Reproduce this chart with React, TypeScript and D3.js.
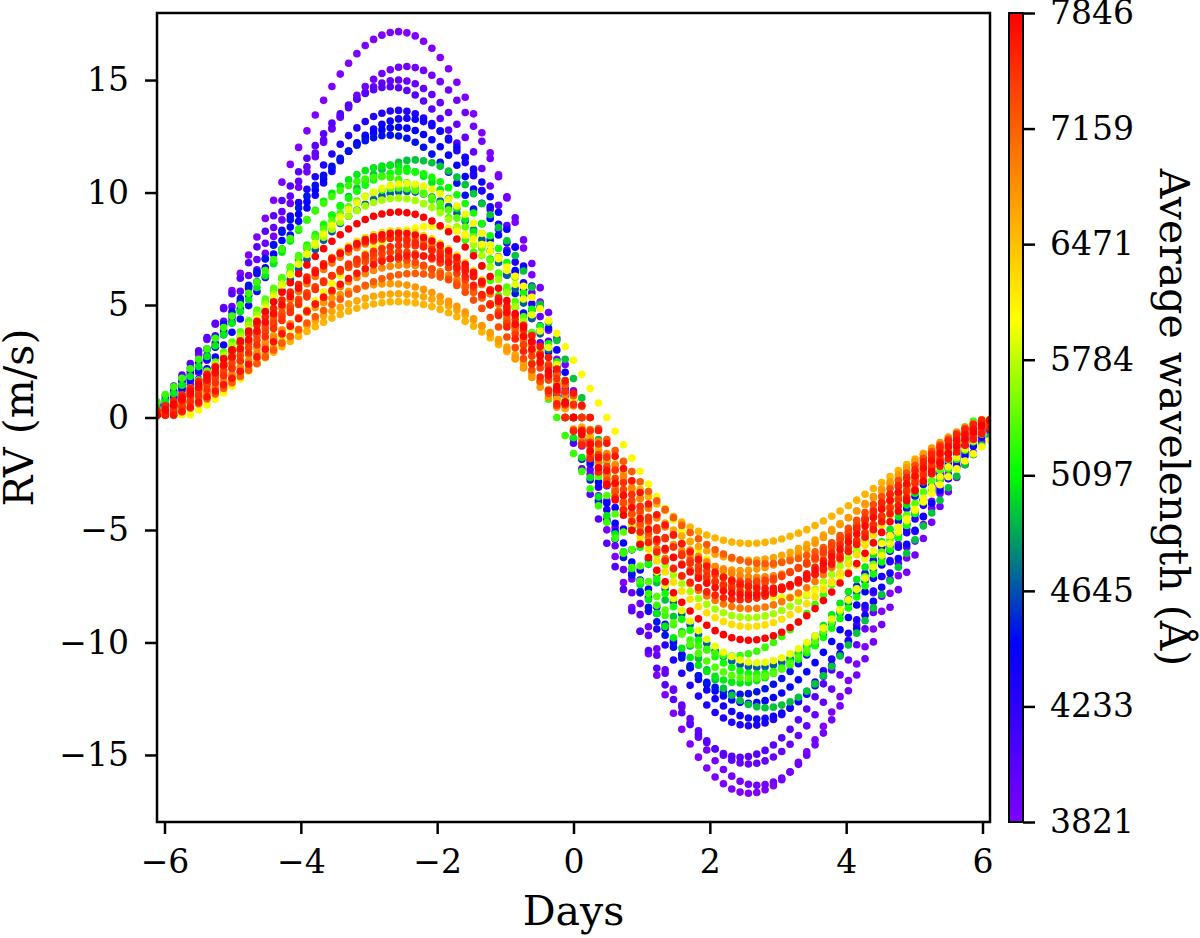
import React, { useEffect, useRef } from "react";
import * as d3 from "d3";

// Normalised RV profile on the 101-point sampling grid (peak = 1)
const profile = [
  0.015, 0.039, 0.065, 0.095, 0.128, 0.163, 0.202, 0.242, 0.285, 0.329,
  0.374, 0.421, 0.468, 0.516, 0.563, 0.61, 0.656, 0.7, 0.743, 0.784,
  0.822, 0.858, 0.89, 0.918, 0.943, 0.964, 0.98, 0.991, 0.998, 1.0,
  0.997, 0.989, 0.975, 0.957, 0.933, 0.904, 0.869, 0.83, 0.787, 0.738,
  0.686, 0.629, 0.569, 0.506, 0.439, 0.37, 0.299, 0.226, 0.151, 0.076,
  0,
  -0.076, -0.151, -0.226, -0.299, -0.37, -0.439, -0.506, -0.569, -0.629, -0.686,
  -0.738, -0.787, -0.83, -0.869, -0.904, -0.933, -0.957, -0.975, -0.989, -0.997,
  -1.0, -0.998, -0.991, -0.98, -0.964, -0.943, -0.918, -0.89, -0.858, -0.822,
  -0.784, -0.743, -0.7, -0.656, -0.61, -0.563, -0.516, -0.468, -0.421, -0.374,
  -0.329, -0.285, -0.242, -0.202, -0.163, -0.128, -0.095, -0.065, -0.039, -0.015,
];

const DAY_STEP = 0.1222;

// One entry per spectral chunk: mean wavelength, RV semi-amplitude on the
// positive and negative lobes (m/s) and the time lag in samples
const wavelengths = [
  3821, 3880, 3950, 4020, 4300, 4380, 4440, 4500, 4680, 4950, 5050, 5150, 5300,
  5400, 5700, 5950, 6050, 6250, 6550, 6650, 6750, 6900, 7000, 7200, 7300, 7400,
  7500, 7600, 7700, 7780, 7846,
];
const peakRV = [
  17.15, 15.6, 15.0, 14.7, 13.65, 13.3, 12.9, 12.55, 10.05, 11.45, 11.2, 10.95,
  10.7, 10.2, 9.75, 10.4, 8.5, 8.3, 5.15, 5.5, 5.95, 6.78, 8.0, 6.4, 7.07, 7.36,
  7.66, 7.96, 7.2, 8.2, 9.13,
];
const troughRV = [
  16.7, 16.35, 15.4, 15.1, 13.7, 13.4, 12.7, 12.3, 11.1, 12.9, 11.8, 11.4, 10.6,
  11.6, 8.9, 10.9, 8.0, 9.3, 5.6, 6.35, 6.8, 7.1, 8.5, 6.5, 7.5, 7.3, 7.8, 8.1,
  7.6, 7.9, 9.9,
];
const lagSteps = [
  0, 1, 0, -1, 0, 1, 0, -1, 1, 2, -1, 1, -2, 0, 0, 1, 4, 0, 0, 0, -1, 1, 0, 2,
  -1, 0, 1, -1, 2, 0, 0,
];

const dayTicks = [-6, -4, -2, 0, 2, 4, 6];
const rvTicks = [-15, -10, -5, 0, 5, 10, 15];
const wavelengthTicks = [3821, 4233, 4645, 5097, 5784, 6471, 7159, 7846];

// colour map: violet -> blue -> green -> yellow -> red
const cmapStops = [0, 0.22, 0.43, 0.62, 1];
const cmapColors = ["#7f00ff", "#0000ff", "#00ff00", "#ffff00", "#ff0000"];

const FONT = "DejaVu Serif";

export default function App() {
  const svgRef = useRef<SVGSVGElement | null>(null);

  useEffect(() => {
    if (!svgRef.current) return;

    const width = 1200;
    const height = 938;
    const plot = { left: 157, right: 990, top: 13, bottom: 822 };
    const cb = { left: 1009, width: 14 };

    const svg = d3.select(svgRef.current);
    svg.selectAll("*").remove();
    svg
      .attr("width", width)
      .attr("height", height)
      .attr("viewBox", `0 0 ${width} ${height}`)
      .style("display", "block")
      .style("background", "#fff");

    const x = d3.scaleLinear().domain([-6.11, 6.11]).range([plot.left, plot.right]);
    const y = d3.scaleLinear().domain([-17.98, 17.98]).range([plot.bottom, plot.top]);

    const cmap = d3
      .scaleLinear<string>()
      .domain(cmapStops)
      .range(cmapColors)
      .interpolate(d3.interpolateRgb);
    // colorbar ticks are evenly spaced, so wavelength -> [0,1] is piecewise linear
    const wlNorm = d3
      .scaleLinear()
      .domain(wavelengthTicks)
      .range(wavelengthTicks.map((_, i) => i / (wavelengthTicks.length - 1)))
      .clamp(true);

    const points: { day: number; rv: number; wl: number }[] = [];
    wavelengths.forEach((wl, c) => {
      profile.forEach((_, k) => {
        const idx = Math.max(0, Math.min(profile.length - 1, k - lagSteps[c]));
        const s = profile[idx];
        points.push({
          day: (k - 50) * DAY_STEP,
          rv: s * (s >= 0 ? peakRV[c] : troughRV[c]),
          wl,
        });
      });
    });

    const defs = svg.append("defs");
    defs
      .append("clipPath")
      .attr("id", "plot-clip")
      .append("rect")
      .attr("x", plot.left)
      .attr("y", plot.top)
      .attr("width", plot.right - plot.left)
      .attr("height", plot.bottom - plot.top);

    const grad = defs
      .append("linearGradient")
      .attr("id", "cbar-grad")
      .attr("x1", 0)
      .attr("y1", 1)
      .attr("x2", 0)
      .attr("y2", 0);
    cmapStops.forEach((o, i) => {
      grad.append("stop").attr("offset", o).attr("stop-color", cmapColors[i]);
    });

    svg
      .append("g")
      .attr("clip-path", "url(#plot-clip)")
      .selectAll("circle")
      .data(points)
      .join("circle")
      .attr("cx", (d) => x(d.day))
      .attr("cy", (d) => y(d.rv))
      .attr("r", 3.8)
      .attr("fill", (d) => cmap(wlNorm(d.wl)));

    const styleAxis = (g: any) => {
      g.select(".domain").remove();
      g.selectAll(".tick line").attr("stroke", "#000").attr("stroke-width", 2.5);
      g.selectAll(".tick text")
        .attr("fill", "#000")
        .attr("font-family", FONT)
        .attr("font-size", 33);
    };

    svg
      .append("g")
      .attr("transform", `translate(0,${plot.bottom})`)
      .call(d3.axisBottom(x).tickValues(dayTicks).tickSize(12).tickPadding(16))
      .call(styleAxis);

    svg
      .append("g")
      .attr("transform", `translate(${plot.left},0)`)
      .call(d3.axisLeft(y).tickValues(rvTicks).tickSize(12).tickPadding(16))
      .call(styleAxis);

    svg
      .append("rect")
      .attr("x", plot.left)
      .attr("y", plot.top)
      .attr("width", plot.right - plot.left)
      .attr("height", plot.bottom - plot.top)
      .attr("fill", "none")
      .attr("stroke", "#000")
      .attr("stroke-width", 2.5);

    // colorbar
    const cbY = d3
      .scaleLinear()
      .domain(wavelengthTicks)
      .range(
        wavelengthTicks.map(
          (_, i) => plot.bottom - (i * (plot.bottom - plot.top)) / (wavelengthTicks.length - 1)
        )
      );

    svg
      .append("rect")
      .attr("x", cb.left)
      .attr("y", plot.top)
      .attr("width", cb.width)
      .attr("height", plot.bottom - plot.top)
      .attr("fill", "url(#cbar-grad)")
      .attr("stroke", "#000")
      .attr("stroke-width", 2);

    svg
      .append("g")
      .attr("transform", `translate(${cb.left + cb.width},0)`)
      .call(
        d3
          .axisRight(cbY)
          .tickValues(wavelengthTicks)
          .tickFormat(d3.format("d"))
          .tickSize(12)
          .tickPadding(15)
      )
      .call(styleAxis);

    // axis labels
    svg
      .append("text")
      .attr("x", (plot.left + plot.right) / 2)
      .attr("y", 925)
      .attr("text-anchor", "middle")
      .attr("font-family", FONT)
      .attr("font-size", 41)
      .text("Days");

    svg
      .append("text")
      .attr("transform", `translate(33,${(plot.top + plot.bottom) / 2}) rotate(-90)`)
      .attr("text-anchor", "middle")
      .attr("font-family", FONT)
      .attr("font-size", 41)
      .text("RV (m/s)");

    svg
      .append("text")
      .attr("transform", `translate(1160,${(plot.top + plot.bottom) / 2}) rotate(90)`)
      .attr("text-anchor", "middle")
      .attr("font-family", FONT)
      .attr("font-size", 41)
      .text("Average wavelength (Å)");
  }, []);

  return (
    <div style={{ position: "absolute", left: 0, top: 0 }}>
      <svg ref={svgRef} />
    </div>
  );
}
